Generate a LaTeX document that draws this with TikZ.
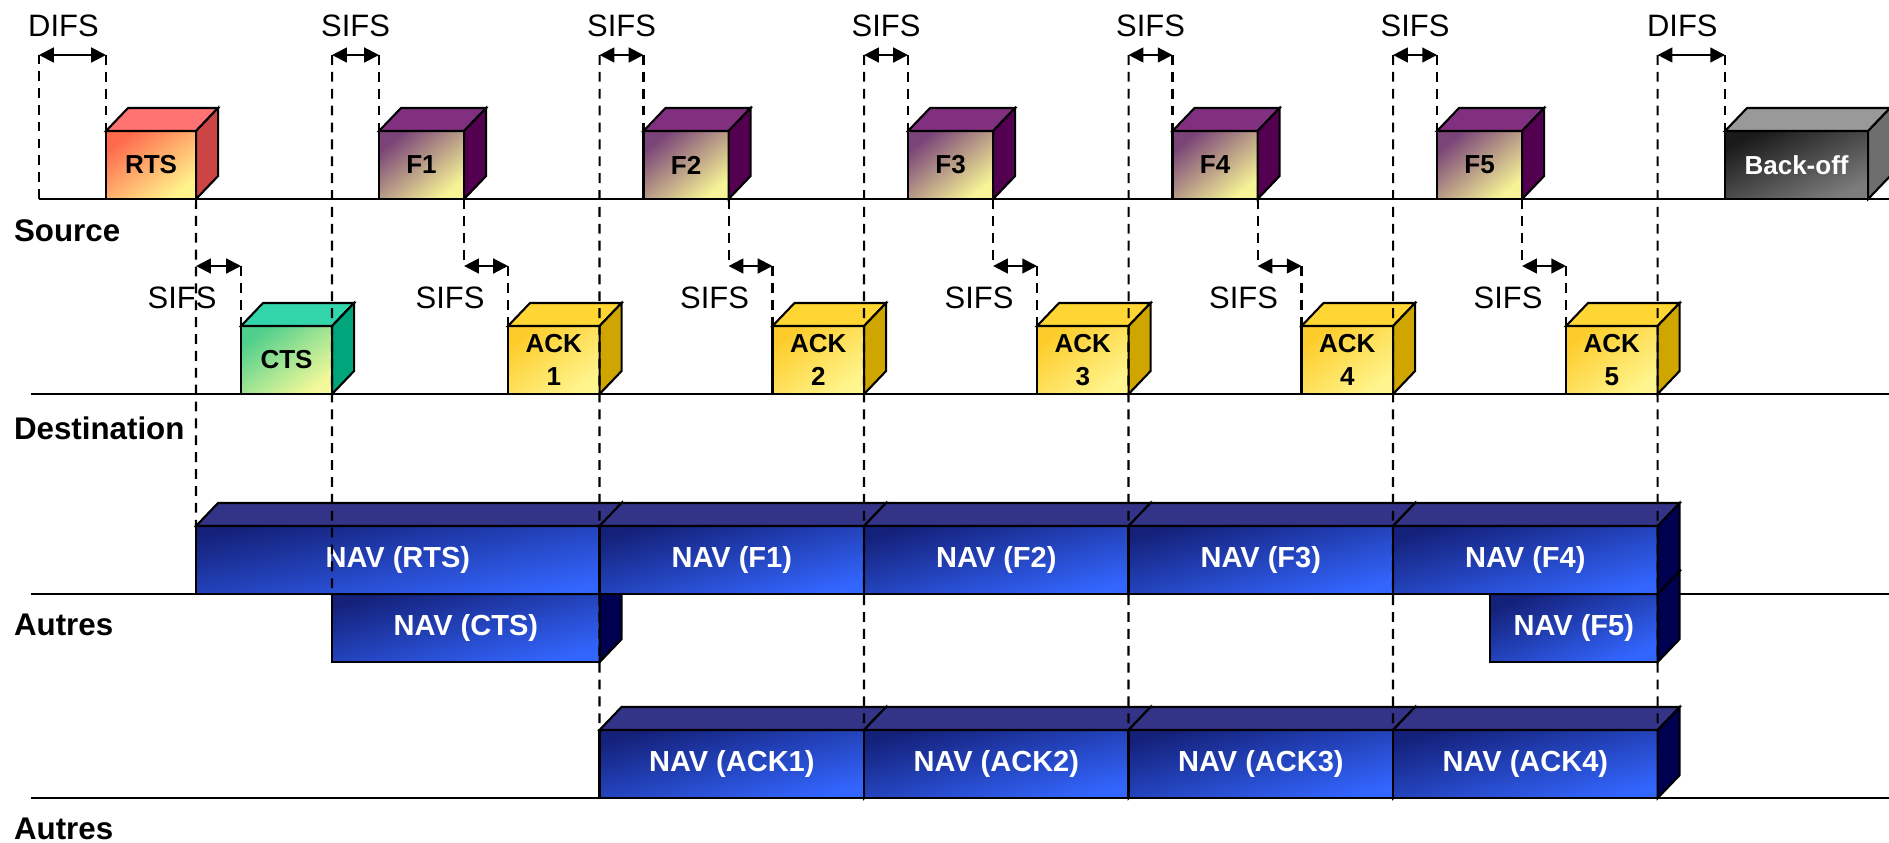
\documentclass[tikz,border=0pt]{standalone}
\usepackage{fontspec}
\setmainfont{Liberation Sans}
\usetikzlibrary{arrows.meta}

\definecolor{rtsA}{HTML}{FF6A4D}
\definecolor{rtsB}{HTML}{FFF48C}
\definecolor{rtsTop}{HTML}{FF7373}
\definecolor{rtsSide}{HTML}{CC4444}
\definecolor{frmA}{HTML}{7A4478}
\definecolor{frmB}{HTML}{F6F496}
\definecolor{frmTop}{HTML}{813080}
\definecolor{frmSide}{HTML}{52004F}
\definecolor{ctsA}{HTML}{4FCF8C}
\definecolor{ctsB}{HTML}{F3F99A}
\definecolor{ctsTop}{HTML}{33D5AA}
\definecolor{ctsSide}{HTML}{00A57C}
\definecolor{ackA}{HTML}{FDCC2A}
\definecolor{ackB}{HTML}{FFF58E}
\definecolor{ackTop}{HTML}{FFD633}
\definecolor{ackSide}{HTML}{CFA500}
\definecolor{bkA}{HTML}{1A1A1A}
\definecolor{bkB}{HTML}{7C7C7C}
\definecolor{bkTop}{HTML}{999999}
\definecolor{bkSide}{HTML}{6E6E6E}
\definecolor{navA}{HTML}{14217A}
\definecolor{navB}{HTML}{3366FF}
\definecolor{navTop}{HTML}{333388}
\definecolor{navSide}{HTML}{000050}

\tikzset{
  box/.style={draw, inner sep=0pt, outer sep=0pt, minimum height=0.68cm,
    anchor=north west, align=center,
    font=\bfseries\fontsize{7.4}{9.4}\selectfont},
  grad/.style n args={3}{top color=#1, bottom color=#2, shading angle=#3},
  navbox/.style={box, grad={navA}{navB}{#1}, text=white,
    font=\bfseries\fontsize{8.25}{10}\selectfont},
  dline/.style={dash pattern=on 2.8pt off 2pt},
  span/.style={<->},
  lbl/.style={inner sep=0pt, font=\fontsize{8.8}{10}\selectfont},
  rowlbl/.style={inner sep=0pt, anchor=west,
    font=\bfseries\fontsize{8.9}{10}\selectfont},
}

% top and side faces of a box node
\newcommand\boxfaces[3]{%
  \filldraw[fill=#2] (#1.north west) -- ++(22,-23)
    -- ([shift={(22,-23)}]#1.north east) -- (#1.north east) -- cycle;
  \filldraw[fill=#3] (#1.north east) -- ++(22,-23)
    -- ([shift={(22,-23)}]#1.south east) -- (#1.south east) -- cycle;
}

\begin{document}
\begin{tikzpicture}[x=0.01cm, y=-0.01cm, line width=0.6pt,
    >={Triangle[length=4.2pt,width=4.2pt]}]
  \useasboundingbox (0,0) rectangle (1889,842);
  \coordinate (top) at (0,55);
  \coordinate (low) at (0,266);

  % time lines
  \draw (39,199) coordinate (srcL) -- (1889,199) coordinate (srcR);
  \draw (31,394) coordinate (dstL) -- (1889,394) coordinate (dstR);
  \draw (31,594) coordinate (oth1L) -- (1889,594) coordinate (oth1R);
  \draw (31,798) coordinate (oth2L) -- (1889,798) coordinate (oth2R);
  \node[rowlbl] (lsrc) at (13,231) {Source};
  \node[rowlbl] (ldst) at (13,428) {Destination};
  \node[rowlbl] (loth1) at (13,625) {Autres};
  \node[rowlbl] (loth2) at (13,829) {Autres};

  % source and destination frames
  \node[box, grad={rtsA}{rtsB}{37}, minimum width=0.90cm] (rts) at (106,131) {RTS};
  \boxfaces{rts}{rtsTop}{rtsSide}
  \node[box, grad={ctsA}{ctsB}{37}, minimum width=0.91cm] (cts) at (241,326) {CTS};
  \boxfaces{cts}{ctsTop}{ctsSide}
  \foreach \k [evaluate=\k as \xf using {379+264.5*(\k-1)},
               evaluate=\k as \xa using {508+264.5*(\k-1)}] in {1,...,5} {
    \node[box, grad={frmA}{frmB}{39}, minimum width=0.85cm] (f\k) at (\xf,131) {F\k};
    \boxfaces{f\k}{frmTop}{frmSide}
    \node[box, grad={ackA}{ackB}{37}, minimum width=0.915cm] (ack\k) at (\xa,326) {ACK\\\k};
    \boxfaces{ack\k}{ackTop}{ackSide}
  }
  \node[box, grad={bkA}{bkB}{25}, text=white, minimum width=1.43cm] (boff) at (1725,131) {Back-off};
  \boxfaces{boff}{bkTop}{bkSide}

  % NAV
  \node[navbox=14, minimum width=2.675cm] (navcts) at (332,594) {NAV (CTS)};
  \boxfaces{navcts}{navTop}{navSide}
  \node[navbox=22, minimum width=1.675cm] (navf5) at (1490,594) {NAV (F5)};
  \boxfaces{navf5}{navTop}{navSide}
  \node[navbox=10, minimum width=4.035cm] (navrts) at (196,526) {NAV (RTS)};
  \boxfaces{navrts}{navTop}{navSide}
  \foreach \k [evaluate=\k as \xn using {599.5+264.5*(\k-1)}] in {1,...,4} {
    \node[navbox=14, minimum width=2.645cm] (navf\k) at (\xn,526) {NAV (F\k)};
    \boxfaces{navf\k}{navTop}{navSide}
    \node[navbox=14, minimum width=2.645cm] (navack\k) at (\xn,730) {NAV (ACK\k)};
    \boxfaces{navack\k}{navTop}{navSide}
  }

  % DIFS / SIFS above the source
  \draw[dline] (srcL) -- (srcL |- top);
  \draw[span] (srcL |- top) -- node[lbl, above=0.17cm, xshift=-0.09cm] (difs1) {DIFS}
    (rts.north west |- top);
  \draw[span] (cts.north east |- top) -- node[lbl, above=0.17cm] (sifs1) {SIFS}
    (f1.north west |- top);
  \foreach \k [evaluate=\k as \j using int(\k+1)] in {1,...,4}
    \draw[span] (ack\k.north east |- top) -- node[lbl, above=0.17cm] (sifs\j) {SIFS}
      (f\j.north west |- top);
  \draw[span] (ack5.north east |- top) -- node[lbl, above=0.17cm, xshift=-0.09cm] (difs2) {DIFS}
    (boff.north west |- top);
  \foreach \n in {rts,f1,f2,f3,f4,f5,boff}
    \draw[dline] (\n.north west |- top) -- (\n.north west);
  \draw[dline] (cts.north east |- top) -- (navcts.north west);
  \foreach \k in {1,...,4}
    \draw[dline] (ack\k.north east |- top) -- (navack\k.north west);
  \draw[dline] (ack5.north east |- top) -- (navack4.north east);

  % SIFS above the destination
  \draw[dline] (rts.south east) -- (navrts.north west);
  \draw[span] (rts.south east |- low) -- node[lbl, pos=0, below=0.2cm, xshift=-0.14cm] (sifsr) {SIFS}
    (cts.north west |- low);
  \draw[dline] (cts.north west |- low) -- (cts.north west);
  \foreach \k in {1,...,5} {
    \draw[dline] (f\k.south east) -- (f\k.south east |- low);
    \draw[span] (f\k.south east |- low) -- node[lbl, pos=0, below=0.2cm, xshift=-0.14cm] (sifsa\k) {SIFS}
      (ack\k.north west |- low);
    \draw[dline] (ack\k.north west |- low) -- (ack\k.north west);
  }
\end{tikzpicture}
\end{document}
